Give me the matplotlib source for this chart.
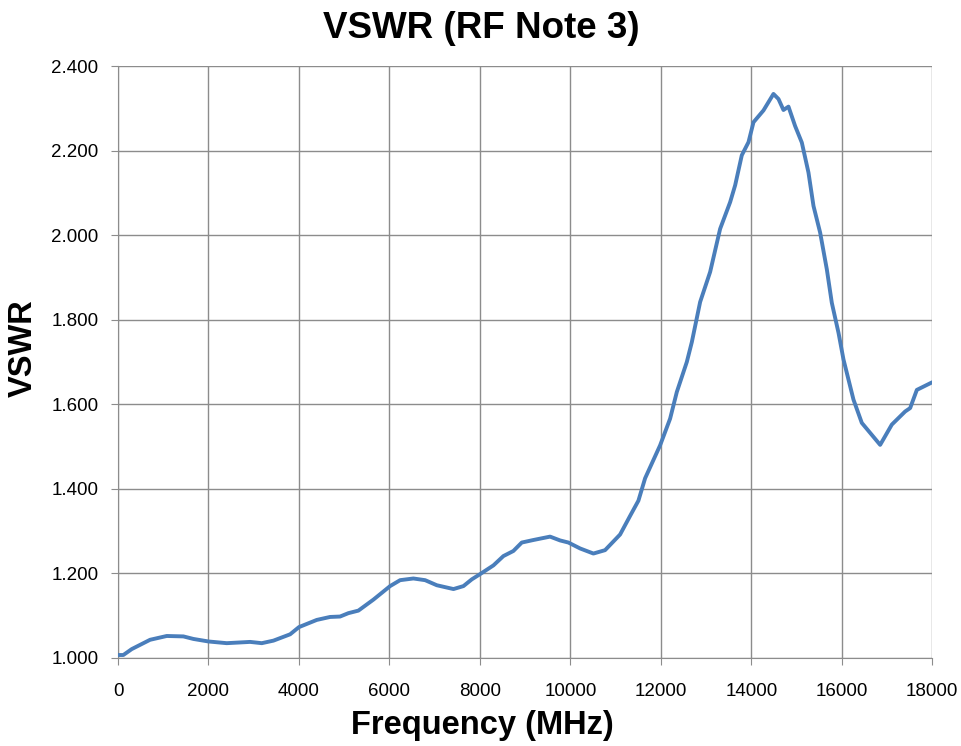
import numpy as np
import matplotlib.pyplot as plt

# frequency (MHz) and VSWR
freq = [0, 117, 303, 708, 1077, 1445, 1666, 2000, 2403, 2920, 3178, 3436, 3805,
        4000, 4394, 4688, 4909, 5093, 5314, 5646, 6015, 6236, 6530, 6790, 7048,
        7416, 7637, 7822, 8000, 8300, 8520, 8740, 8926, 9183, 9552, 9773, 9957,
        10216, 10510, 10768, 11100, 11321, 11505, 11653, 11985, 12206, 12354,
        12575, 12686, 12870, 13091, 13312, 13533, 13644, 13791, 13939, 14049,
        14270, 14491, 14602, 14712, 14823, 14970, 15118, 15265, 15376, 15523,
        15671, 15781, 15929, 16039, 16260, 16444, 16850, 17108, 17403, 17513,
        17661, 18000]
vswr = [1.007, 1.007, 1.021, 1.043, 1.052, 1.051, 1.045, 1.039, 1.035, 1.038,
        1.035, 1.041, 1.056, 1.073, 1.090, 1.097, 1.098, 1.106, 1.112, 1.138,
        1.170, 1.184, 1.188, 1.184, 1.172, 1.163, 1.170, 1.186, 1.198, 1.219,
        1.241, 1.253, 1.273, 1.279, 1.287, 1.278, 1.273, 1.259, 1.247, 1.255,
        1.292, 1.336, 1.372, 1.425, 1.503, 1.566, 1.629, 1.700, 1.747, 1.842,
        1.913, 2.015, 2.078, 2.118, 2.189, 2.220, 2.267, 2.295, 2.334, 2.322,
        2.296, 2.304, 2.258, 2.219, 2.148, 2.069, 2.006, 1.919, 1.840, 1.769,
        1.706, 1.611, 1.556, 1.504, 1.552, 1.583, 1.591, 1.634, 1.652]

xticks = np.arange(0, 18001, 2000)
yticks = np.arange(1.0, 2.401, 0.2)

plt.rcParams['font.family'] = ['Liberation Sans', 'DejaVu Sans']

fig = plt.figure(figsize=(9.62, 7.46), dpi=100)
ax = fig.add_axes([0.1227, 0.118, 0.8463, 0.7935])

ax.plot(freq, vswr, color='#4a7ebb', lw=2.8, solid_capstyle='round',
        solid_joinstyle='round', zorder=3)

ax.set_xlim(0, 18000)
ax.set_ylim(1.0, 2.4)
ax.set_xticks(xticks)
ax.set_yticks(yticks)
ax.set_yticklabels([f'{v:.3f}' for v in yticks])
ax.grid(True, color='#8c8c8c', lw=1.0)
ax.set_axisbelow(True)

for s in ['top', 'right']:
    ax.spines[s].set_visible(False)
for s in ['left', 'bottom']:
    ax.spines[s].set_color('#8c8c8c')
ax.tick_params(colors='#8c8c8c', length=5, labelsize=13.5, labelcolor='black')
ax.tick_params(axis='y', pad=9)
ax.tick_params(axis='x', pad=13)

# titles placed relative to the figure, as in the original
fig.text(0.5, 0.962, 'VSWR (RF Note 3)', fontsize=26.5, fontweight='bold',
         ha='center', va='center')
fig.text(0.501, 0.028, 'Frequency (MHz)', fontsize=23.5, fontweight='bold',
         ha='center', va='center')
fig.text(0.024, 0.533, 'VSWR', fontsize=23.5, fontweight='bold',
         ha='center', va='center', rotation=90)

fig.savefig('out.png', dpi=100)
